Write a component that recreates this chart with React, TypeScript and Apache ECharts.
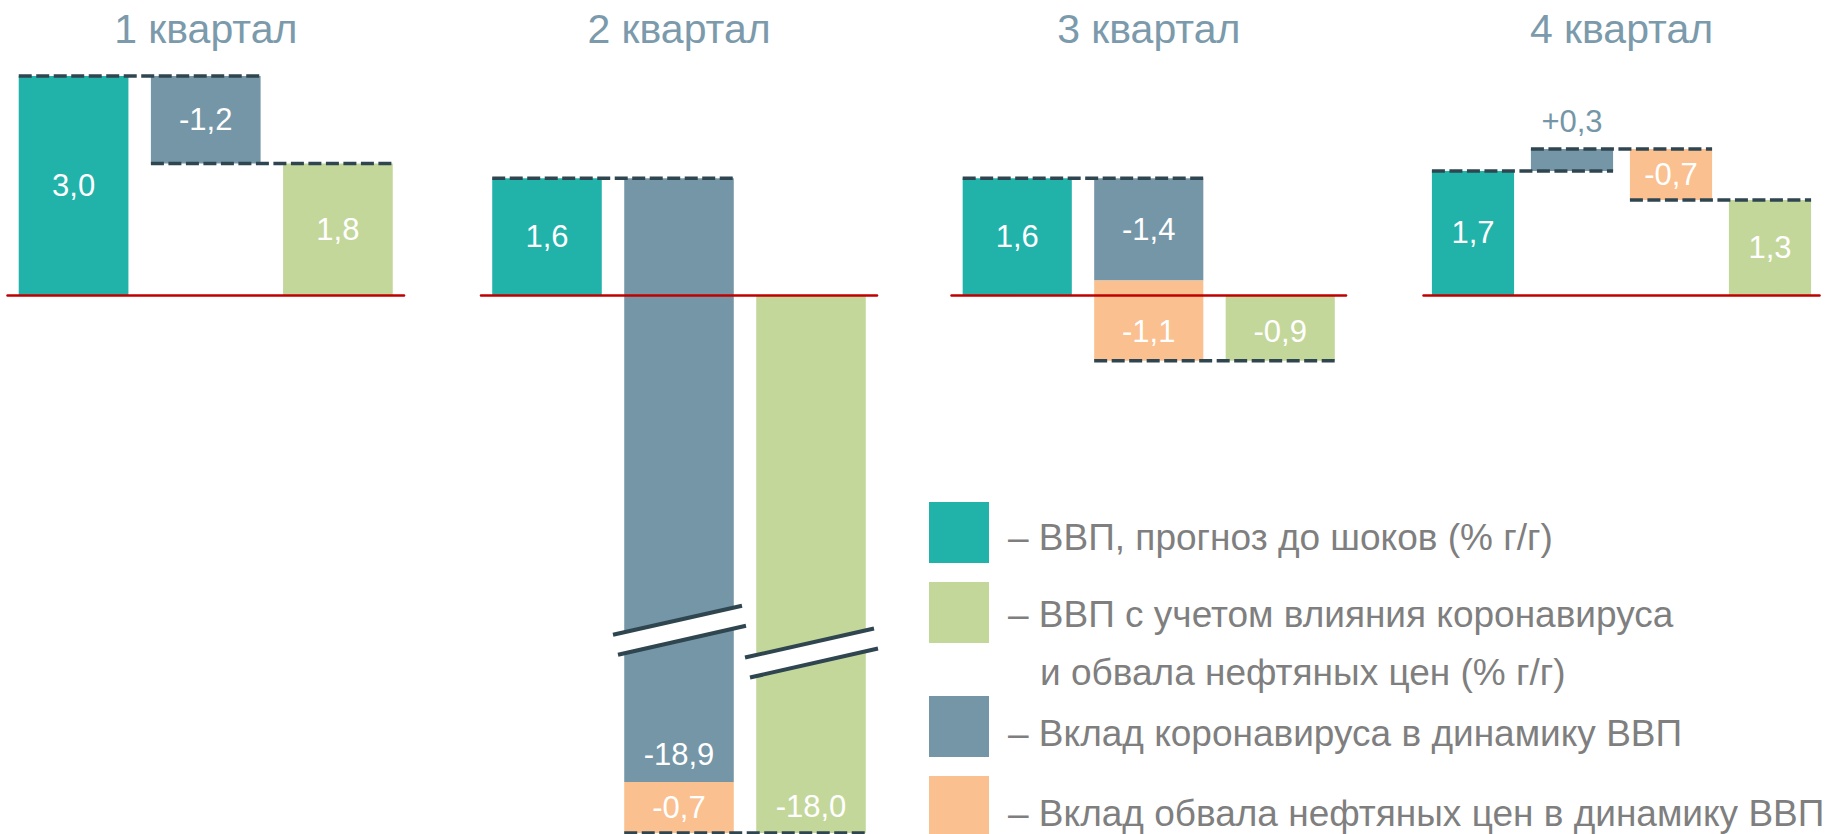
import React, { useEffect, useRef } from 'react';
import * as echarts from 'echarts';

// ---------- DATA ----------
const PANEL_TITLES = ['1 квартал', '2 квартал', '3 квартал', '4 квартал'];

// values per bar (% г/г and contributions, п.п.)
const q1Values = [3.0, -1.2, 1.8];
const q2Values = [1.6, -18.9, -0.7, -18.0];
const q3Values = [1.6, -1.4, -1.1, -0.9];
const q4Values = [1.7, 0.3, -0.7, 1.3];

// kind of each bar
const q1Kinds = ['forecast', 'covid', 'result'];
const q2Kinds = ['forecast', 'covid', 'oil', 'result'];
const q3Kinds = ['forecast', 'covid', 'oil', 'result'];
const q4Kinds = ['forecast', 'covid', 'oil', 'result'];

// column (category) of each bar
const q1Slots = [0, 1, 2];
const q2Slots = [0, 1, 1, 2];
const q3Slots = [0, 1, 1, 2];
const q4Slots = [0, 1, 2, 3];

const q1Categories = ['Прогноз', 'Коронавирус', 'Итог'];
const q2Categories = ['Прогноз', 'Коронавирус и нефть', 'Итог'];
const q3Categories = ['Прогноз', 'Коронавирус и нефть', 'Итог'];
const q4Categories = ['Прогноз', 'Коронавирус', 'Нефть', 'Итог'];

const LEGEND_LINES = [
  '– ВВП, прогноз до шоков (% г/г)',
  '– ВВП с учетом влияния коронавируса',
  'и обвала нефтяных цен (% г/г)',
  '– Вклад коронавируса в динамику ВВП',
  '– Вклад обвала нефтяных цен в динамику ВВП',
];

// ---------- STYLE ----------
const KINDS = ['forecast', 'covid', 'oil', 'result'];
const COLORS: Record<string, string> = {
  forecast: '#21b2aa',
  covid: '#7596a7',
  oil: '#fac090',
  result: '#c4d79b',
};
const FONT = '"Liberation Sans", Arial, sans-serif';
const TITLE_COLOR = '#7b9aab';
const DASH_COLOR = '#2f4550';
const ZERO_COLOR = '#c00000';
const BAR_RATIO = 0.83;
const LABEL_SIZE = 31;

// label placement per bar (style only)
const q1LabelPos = [{ p: 'inside' }, { p: 'inside' }, { p: 'inside' }];
const q2LabelPos = [{ p: 'inside' }, { p: 'insideBottom', d: 12 }, { p: 'inside' }, { p: 'insideBottom', d: 11 }];
const q3LabelPos = [{ p: 'inside' }, { p: 'inside' }, { p: 'inside', o: 11 }, { p: 'inside', o: 4 }];
const q4LabelPos = [{ p: 'top', d: 0 }, { p: 'top', d: 12, outside: true }, { p: 'inside' }, { p: 'inside' }];

const fmt = (v: number, kind: string) => {
  const s = Math.abs(v).toFixed(1).replace('.', ',');
  if (v < 0) return '-' + s;
  if (kind === 'covid' || kind === 'oil') return '+' + s;
  return s;
};

function buildBars(values: number[], kinds: string[], slots: number[]) {
  let running = 0;
  return values.map((v, i) => {
    const k = kinds[i];
    let start = 0;
    let end = v;
    if (k === 'forecast') {
      running = v;
    } else if (k !== 'result') {
      start = running;
      end = running + v;
      running = end;
    }
    return [slots[i], start, end, KINDS.indexOf(k), v, i];
  });
}

function buildConnectors(values: number[], kinds: string[], slots: number[]) {
  let running = 0;
  const levels: Record<number, number> = {};
  values.forEach((v, i) => {
    const k = kinds[i];
    if (k === 'forecast') running = v;
    else if (k === 'result') running = v;
    else running = running + v;
    levels[slots[i]] = Math.round(running * 10) / 10;
  });
  const maxSlot = Math.max(...slots);
  const out: number[][] = [];
  for (let s = 0; s < maxSlot; s++) out.push([s, s + 1, levels[s]]);
  return out;
}

const PANELS = [
  { values: q1Values, kinds: q1Kinds, slots: q1Slots, cats: q1Categories, labels: q1LabelPos },
  { values: q2Values, kinds: q2Kinds, slots: q2Slots, cats: q2Categories, labels: q2LabelPos },
  { values: q3Values, kinds: q3Kinds, slots: q3Slots, cats: q3Categories, labels: q3LabelPos },
  { values: q4Values, kinds: q4Kinds, slots: q4Slots, cats: q4Categories, labels: q4LabelPos },
];

// layout of panels (px)
const GRID_LEFT = [7.5, 481, 951.5, 1423.5];
const GRID_WIDTH = [396.5, 396, 394.5, 396];
const GRID_TOP = 39.5;
const Y_MAX = 3.5;
const Y_MIN_SMALL = -2;
const Y_MIN_Q2 = -18;
const Q2_BREAK = { start: -15.5, end: -4.6, gap: 0.27 };

export default function App() {
  const ref = useRef<HTMLDivElement>(null);

  useEffect(() => {
    document.body.style.margin = '0';
    if (!ref.current) return;
    const chart = echarts.init(ref.current, undefined, { renderer: 'svg' });

    const grids: any[] = [];
    const xAxes: any[] = [];
    const yAxes: any[] = [];
    const series: any[] = [];
    const titles: any[] = [];

    PANELS.forEach((panel, pi) => {
      const isQ2 = pi === 1;
      const height = isQ2 ? (Y_MAX - Y_MIN_Q2 - (Q2_BREAK.end - Q2_BREAK.start) + Q2_BREAK.gap) * 73 : (Y_MAX - Y_MIN_SMALL) * 73;
      grids.push({ left: GRID_LEFT[pi], width: GRID_WIDTH[pi], top: GRID_TOP, height, containLabel: false });
      xAxes.push({
        type: 'category',
        gridIndex: pi,
        data: panel.cats,
        z: 4,
        axisLine: { show: true, onZero: true, lineStyle: { color: ZERO_COLOR, width: 2.5 } },
        axisTick: { show: false },
        axisLabel: { show: false },
        splitLine: { show: false },
      });
      const y: any = {
        type: 'value',
        gridIndex: pi,
        min: isQ2 ? Y_MIN_Q2 : Y_MIN_SMALL,
        max: Y_MAX,
        show: false,
        splitLine: { show: false },
      };
      if (isQ2) {
        y.breaks = [{ start: Q2_BREAK.start, end: Q2_BREAK.end, gap: Q2_BREAK.gap }];
        y.breakArea = { show: false };
      }
      yAxes.push(y);

      titles.push({
        text: PANEL_TITLES[pi],
        left: GRID_LEFT[pi] + GRID_WIDTH[pi] / 2,
        top: 8,
        textAlign: 'center',
        padding: 0,
        textStyle: { fontFamily: FONT, fontSize: 41, fontWeight: 'normal', color: TITLE_COLOR },
      });

      const bars = buildBars(panel.values, panel.kinds, panel.slots);
      series.push({
        type: 'custom',
        name: PANEL_TITLES[pi],
        xAxisIndex: pi,
        yAxisIndex: pi,
        z: 2,
        encode: { x: 0, y: [1, 2] },
        data: bars,
        renderItem: (params: any, api: any) => {
          const slot = api.value(0);
          const start = api.value(1);
          const end = api.value(2);
          const kind = KINDS[api.value(3)];
          const v = api.value(4);
          const idx = api.value(5);
          const p0 = api.coord([slot, start]);
          const p1 = api.coord([slot, end]);
          const bw = api.size([1, 0])[0] * BAR_RATIO;
          const top = Math.min(p0[1], p1[1]);
          const h = Math.abs(p1[1] - p0[1]);
          let lp: any = panel.labels[idx] || { p: 'inside' };
          if (lp.p === 'top' && !lp.outside) lp = { p: 'inside' };
          return {
            type: 'rect',
            shape: { x: p0[0] - bw / 2, y: top, width: bw, height: h },
            style: { fill: COLORS[kind] },
            textContent: {
              style: {
                text: fmt(v, kind),
                fill: lp.outside ? COLORS.covid : '#ffffff',
                fontSize: LABEL_SIZE,
                fontFamily: FONT,
              },
            },
            textConfig: {
              position: lp.p,
              distance: lp.d ?? 5,
              offset: [0, lp.o ?? 0],
              inside: !lp.outside,
            },
          };
        },
      });

      const conns = buildConnectors(panel.values, panel.kinds, panel.slots);
      series.push({
        type: 'custom',
        name: PANEL_TITLES[pi] + ' connectors',
        xAxisIndex: pi,
        yAxisIndex: pi,
        z: 5,
        encode: { x: [0, 1], y: 2 },
        data: conns,
        renderItem: (params: any, api: any) => {
          const a = api.coord([api.value(0), api.value(2)]);
          const b = api.coord([api.value(1), api.value(2)]);
          const bw = api.size([1, 0])[0] * BAR_RATIO;
          return {
            type: 'line',
            shape: { x1: a[0] - bw / 2, y1: a[1], x2: b[0] + bw / 2, y2: b[1] },
            style: { stroke: DASH_COLOR, lineWidth: 3.5, lineDash: [13, 4.5] },
          };
        },
      });

      if (isQ2) {
        // break marks on columns crossing the axis break
        series.push({
          type: 'custom',
          name: 'break marks',
          xAxisIndex: pi,
          yAxisIndex: pi,
          z: 6,
          encode: { x: 0, y: 1 },
          data: [
            [1, Q2_BREAK.end, 0],
            [2, Q2_BREAK.start, 3],
          ],
          renderItem: (params: any, api: any) => {
            const c = api.coord([api.value(0), api.value(1)]);
            const cx = c[0];
            const cy = c[1] + api.value(2);
            const st = { stroke: DASH_COLOR, lineWidth: 4 };
            return {
              type: 'group',
              children: [
                {
                  type: 'polygon',
                  shape: { points: [[cx - 66, cy + 4], [cx + 63, cy - 25], [cx + 67, cy - 5], [cx - 61, cy + 24]] },
                  style: { fill: '#ffffff' },
                },
                { type: 'line', shape: { x1: cx - 66, y1: cy + 4, x2: cx + 63, y2: cy - 25 }, style: st },
                { type: 'line', shape: { x1: cx - 61, y1: cy + 24, x2: cx + 67, y2: cy - 5 }, style: st },
              ],
            };
          },
        });
      }
    });

    // legend as graphic
    const legendColors = [COLORS.forecast, COLORS.result, COLORS.covid, COLORS.oil];
    const squareY = [502, 582, 696, 776];
    const lineY = [537, 614, 672, 733, 813];
    const lineX = [1008, 1008, 1040, 1008, 1008];
    const graphic: any[] = [];
    legendColors.forEach((c, i) => {
      graphic.push({ type: 'rect', left: 929, top: squareY[i], shape: { width: 60, height: 61 }, style: { fill: c } });
    });
    LEGEND_LINES.forEach((t, i) => {
      graphic.push({
        type: 'text',
        x: lineX[i],
        y: lineY[i],
        style: { text: t, fontSize: 37, fontFamily: FONT, fill: '#7f7f7f', textVerticalAlign: 'middle', verticalAlign: 'middle' },
      });
    });

    chart.setOption({
      animation: false,
      backgroundColor: '#ffffff',
      title: titles,
      grid: grids,
      xAxis: xAxes,
      yAxis: yAxes,
      series,
      graphic,
    });

    return () => chart.dispose();
  }, []);

  return <div ref={ref} style={{ width: 1835, height: 834 }} />;
}
